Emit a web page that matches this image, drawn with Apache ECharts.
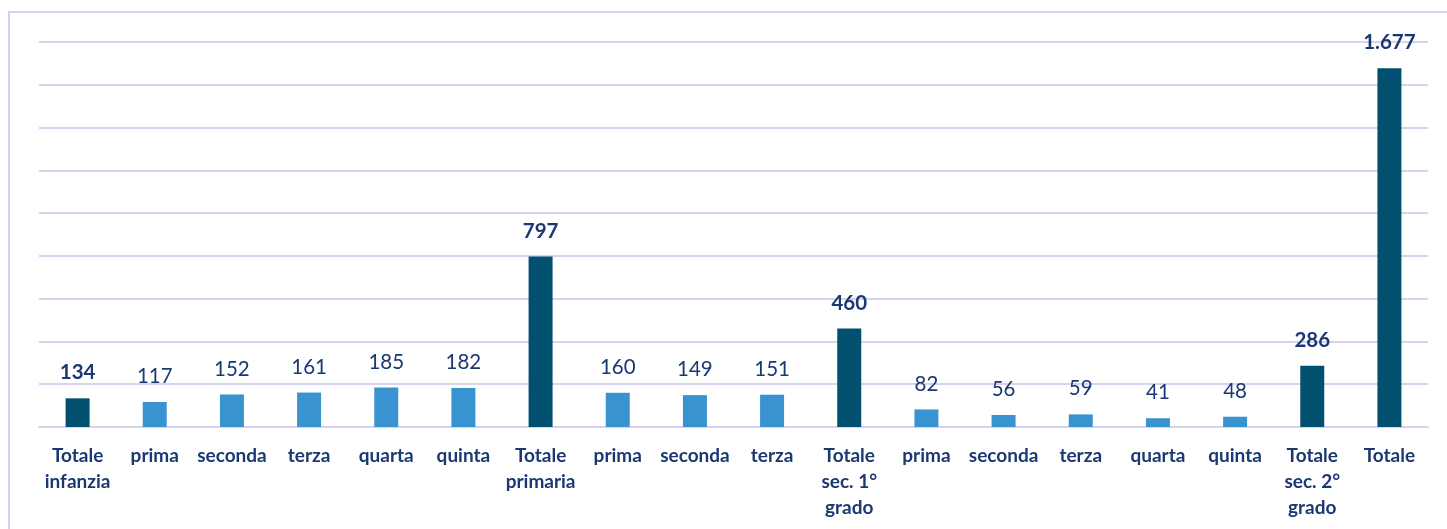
<!DOCTYPE html>
<html><head><meta charset="utf-8">
<script src="https://cdn.jsdelivr.net/npm/echarts@6/dist/echarts.min.js"></script>
<style>html,body{margin:0;padding:0;background:#fff}#c{width:1447px;height:529px}</style>
</head><body><div id="c"></div>
<script>
const categories = ["Totale\ninfanzia","prima","seconda","terza","quarta","quinta","Totale\nprimaria","prima","seconda","terza","Totale\nsec. 1°\ngrado","prima","seconda","terza","quarta","quinta","Totale\nsec. 2°\ngrado","Totale"];
const values = [134,117,152,161,185,182,797,160,149,151,460,82,56,59,41,48,286,1677];
const isTotal = [true,false,false,false,false,false,true,false,false,false,true,false,false,false,false,false,true,true];

const dark = '#02506f', light = '#3a93d1', txt = '#1b3872';
const fmt = v => String(v).replace(/\B(?=(\d{3})+(?!\d))/g, '.');

const chart = echarts.init(document.getElementById('c'));
chart.setOption({
  animation: false,
  graphic: [{type:'rect', shape:{x:9, y:12, width:1460, height:540}, style:{fill:'none', stroke:'#d4d0f2', lineWidth:2}, silent:true}],
  grid: {left: 39, right: 19, top: 42, bottom: 102},
  xAxis: {
    type: 'category', data: categories,
    axisLine: {show: true, lineStyle: {color: '#d6d2f0', width: 2}},
    axisTick: {show: false},
    axisLabel: {interval: 0, margin: 16, color: txt, fontFamily: 'Lato', fontWeight: 'bold', fontSize: 19, lineHeight: 26}
  },
  yAxis: {
    type: 'value', min: 0, max: 1800, interval: 200,
    axisLabel: {show: false}, axisLine: {show: false}, axisTick: {show: false},
    splitLine: {lineStyle: {color: '#d6d2f0', width: 2}}
  },
  series: [{
    type: 'bar', barWidth: 24,
    data: values.map((v, i) => ({
      value: v,
      itemStyle: {color: isTotal[i] ? dark : light},
      label: {fontWeight: isTotal[i] ? 'bold' : 'normal', fontSize: isTotal[i] ? 20.5 : 20.5}
    })),
    label: {show: true, position: 'top', distance: 15, color: txt, fontFamily: 'Lato', formatter: p => fmt(p.value)}
  }]
});
</script></body></html>
